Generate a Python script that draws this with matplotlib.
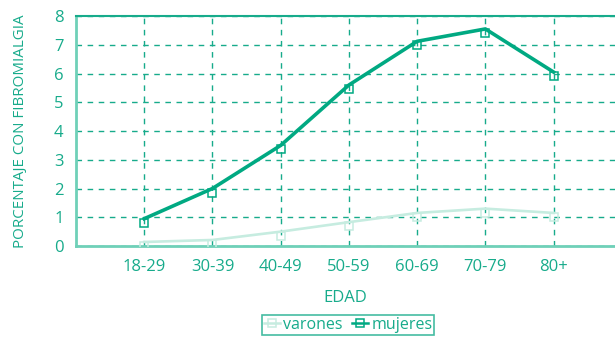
import matplotlib
matplotlib.use("Agg")
import matplotlib.pyplot as plt
from matplotlib.transforms import offset_copy

categories = ["18-29", "30-39", "40-49", "50-59", "60-69", "70-79", "80+"]
varones = [0.14, 0.21, 0.5, 0.83, 1.15, 1.3, 1.15]
mujeres = [0.95, 2.0, 3.5, 5.6, 7.12, 7.55, 6.05]
yticks = [0, 1, 2, 3, 4, 5, 6, 7, 8]

teal = "#17AB8B"
dark = "#00A982"
light = "#C6ECE0"
spine_light = "#6FD0B8"

plt.rcParams['font.family'] = ['Open Sans', 'DejaVu Sans']

fig = plt.figure(figsize=(6.15, 3.37), dpi=100)
ax = fig.add_axes([0.1236, 0.27, 0.8764, 0.6825])

x = list(range(len(categories)))
mk_off = offset_copy(ax.transData, fig=fig, x=0, y=-4, units='dots')

ax.plot(x, varones, color=light, lw=1.9, zorder=3)
ax.plot(x, varones, ls='none', marker='s', ms=5.5, mfc='none', mec=light, mew=1.1,
        transform=mk_off, zorder=4)
ax.plot(x, mujeres, color=dark, lw=2.6, zorder=5)
ax.plot(x, mujeres, ls='none', marker='s', ms=5.5, mfc='none', mec=dark, mew=1.1,
        transform=mk_off, zorder=6)

# legend handles
h1, = ax.plot([], [], color=light, lw=1.8, marker='s', ms=5.5, mfc='none', mec=light, mew=1.1)
h2, = ax.plot([], [], color=dark, lw=1.8, marker='s', ms=5.5, mfc='none', mec=dark, mew=1.1)

ax.set_xlim(-1, 6.9)
ax.set_ylim(0, 8)
ax.set_xticks(x)
ax.set_xticklabels(categories)
ax.set_yticks(yticks)
ax.tick_params(axis='both', length=0, colors=teal, labelsize=12)
ax.tick_params(axis='x', pad=9)
ax.tick_params(axis='y', pad=9)

ax.grid(True, color=teal, ls=(0, (4, 4)), lw=1.0)
ax.set_axisbelow(True)
for s in ['left', 'bottom']:
    ax.spines[s].set_color(spine_light)
    ax.spines[s].set_linewidth(2)
ax.spines['top'].set_color(teal)
ax.spines['top'].set_linewidth(1.5)
ax.spines['right'].set_visible(False)

ax.set_ylabel("PORCENTAJE CON FIBROMIALGIA", color=teal, fontsize=10.9)
ax.yaxis.set_label_coords(-0.09, 0.5)
ax.set_xlabel("EDAD", color=teal, fontsize=12)
ax.xaxis.set_label_coords(0.5, -0.19)

leg = fig.legend([h1, h2], ["varones", "mujeres"], loc='center', bbox_to_anchor=(348/615, 1 - 325/337),
                 ncol=2, frameon=True, fancybox=False, fontsize=11.5, handlelength=1.0,
                 handletextpad=0.2, columnspacing=0.6, borderpad=0.1, labelcolor=teal)
leg.get_frame().set_edgecolor(teal)
leg.get_frame().set_linewidth(1.2)

fig.savefig("out.png", dpi=100)
